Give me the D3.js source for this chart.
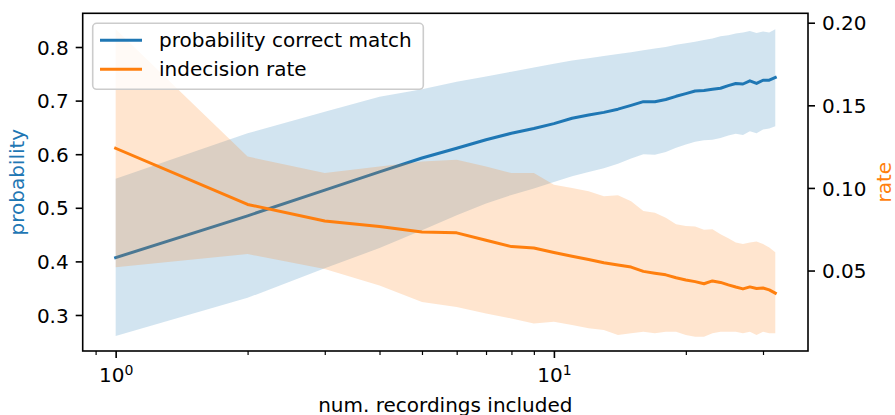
<html>
<head>
<meta charset="UTF-8"/>
<script src="https://d3js.org/d3.v7.min.js"></script>
<style>
body { margin: 0; background: #fff; }
text { font-family: "DejaVu Sans", sans-serif; }
</style>
</head>
<body>
<script>
// number of recordings (x)
const recordings = [1,2,3,4,5,6,7,8,9,10,11,12,13,14,15,16,17,18,19,20,21,22,23,24,25,26,27,28,29,30,31,32];

// probability of correct match (left axis)
const probMean  = [0.407,0.485,0.533,0.567,0.593,0.611,0.627,0.639,0.648,0.657,0.667,0.673,0.678,0.684,0.691,0.698,
                   0.698,0.702,0.708,0.713,0.718,0.719,0.721,0.723,0.728,0.732,0.731,0.737,0.732,0.738,0.738,0.743];
const probUpper = [0.554,0.639,0.679,0.707,0.721,0.735,0.745,0.754,0.762,0.769,0.775,0.779,0.783,0.787,0.790,0.794,
                   0.797,0.800,0.804,0.807,0.810,0.813,0.816,0.820,0.822,0.825,0.827,0.830,0.826,0.829,0.827,0.833];
const probLower = [0.261,0.332,0.387,0.425,0.458,0.486,0.508,0.524,0.536,0.548,0.559,0.567,0.574,0.582,0.592,0.600,
                   0.599,0.604,0.612,0.618,0.623,0.626,0.627,0.630,0.635,0.638,0.636,0.643,0.639,0.646,0.648,0.652];

// indecision rate (right axis)
const rateMean  = [0.124,0.090,0.080,0.0767,0.0733,0.0728,0.0683,0.0645,0.0636,0.0609,0.0587,0.0567,0.0547,0.0533,0.0521,0.0495,
                   0.0484,0.0474,0.0456,0.0443,0.0433,0.0420,0.0437,0.0428,0.0413,0.0400,0.0389,0.0401,0.0391,0.0394,0.0383,0.0363];
const rateUpper = [0.196,0.119,0.109,0.113,0.116,0.117,0.113,0.109,0.109,0.102,0.100,0.098,0.095,0.0955,0.092,0.086,
                   0.085,0.082,0.078,0.077,0.0767,0.0747,0.075,0.072,0.0696,0.067,0.066,0.067,0.0676,0.066,0.064,0.061];
const rateLower = [0.052,0.060,0.051,0.041,0.031,0.028,0.024,0.021,0.018,0.019,0.017,0.015,0.014,0.011,0.012,0.013,
                   0.012,0.013,0.013,0.011,0.010,0.010,0.012,0.013,0.013,0.013,0.012,0.013,0.011,0.013,0.012,0.012];

// ticks
const xMajor = [1, 10];
const xMinor = [0.9, 2, 3, 4, 5, 6, 7, 8, 9, 20, 30];
const probTicks = [0.3, 0.4, 0.5, 0.6, 0.7, 0.8];
const rateTicks = [0.05, 0.10, 0.15, 0.20];

const blue = "#1f77b4";
const orange = "#ff7f0e";

const width = 895, height = 415;
const plotL = 82.7, plotR = 808, plotT = 13.3, plotB = 351;

const svg = d3.select("body").append("svg")
  .attr("width", width)
  .attr("height", height);

const x = d3.scaleLog().domain([0.841, 38.0]).range([plotL, plotR]);
const y1 = d3.scaleLinear().domain([0.2328, 0.8629]).range([plotB, plotT]);
const y2 = d3.scaleLinear().domain([0.0013, 0.2057]).range([plotB, plotT]);

const probRows = recordings.map((r, i) => ({r: r, m: probMean[i], lo: probLower[i], hi: probUpper[i]}));
const rateRows = recordings.map((r, i) => ({r: r, m: rateMean[i], lo: rateLower[i], hi: rateUpper[i]}));

// probability band + line (first axes)
svg.append("path")
  .datum(probRows)
  .attr("fill", blue).attr("fill-opacity", 0.2)
  .attr("d", d3.area().x(d => x(d.r)).y0(d => y1(d.lo)).y1(d => y1(d.hi)));
svg.append("path")
  .datum(probRows)
  .attr("fill", "none").attr("stroke", blue).attr("stroke-width", 3)
  .attr("stroke-linejoin", "round").attr("stroke-linecap", "square")
  .attr("d", d3.line().x(d => x(d.r)).y(d => y1(d.m)));

// rate band + line (twin axes, drawn on top)
svg.append("path")
  .datum(rateRows)
  .attr("fill", orange).attr("fill-opacity", 0.2)
  .attr("d", d3.area().x(d => x(d.r)).y0(d => y2(d.lo)).y1(d => y2(d.hi)));
svg.append("path")
  .datum(rateRows)
  .attr("fill", "none").attr("stroke", orange).attr("stroke-width", 3)
  .attr("stroke-linejoin", "round").attr("stroke-linecap", "square")
  .attr("d", d3.line().x(d => x(d.r)).y(d => y2(d.m)));

// spines
svg.append("rect")
  .attr("x", plotL).attr("y", plotT)
  .attr("width", plotR - plotL).attr("height", plotB - plotT)
  .attr("fill", "none").attr("stroke", "black").attr("stroke-width", 1.6);

function style(g, w) {
  g.select(".domain").remove();
  g.selectAll(".tick line").attr("stroke-width", w);
  g.attr("font-size", 20).attr("font-family", "DejaVu Sans");
}

// left axis
svg.append("g")
  .attr("transform", "translate(" + plotL + ",0)")
  .call(d3.axisLeft(y1).tickValues(probTicks).tickSize(7).tickPadding(7).tickFormat(d3.format(".1f")))
  .call(g => style(g, 1.6))
  .selectAll("text").attr("dy", "0.36em");

// right axis
svg.append("g")
  .attr("transform", "translate(" + plotR + ",0)")
  .call(d3.axisRight(y2).tickValues(rateTicks).tickSize(7).tickPadding(7).tickFormat(d3.format(".2f")))
  .call(g => style(g, 1.6))
  .selectAll("text").attr("dy", "0.36em");

// bottom axis, minor then major
svg.append("g")
  .attr("transform", "translate(0," + plotB + ")")
  .call(d3.axisBottom(x).tickValues(xMinor).tickSize(4).tickFormat(""))
  .call(g => style(g, 1.2));

const xg = svg.append("g")
  .attr("transform", "translate(0," + plotB + ")")
  .call(d3.axisBottom(x).tickValues(xMajor).tickSize(7).tickFormat(""))
  .call(g => style(g, 1.6));

xg.selectAll(".tick").each(function(d) {
  const t = d3.select(this).select("text")
    .attr("y", 31).attr("dy", null)
    .attr("text-anchor", "middle");
  t.append("tspan").text("10");
  t.append("tspan").attr("font-size", 14).attr("dy", -7).text(Math.round(Math.log10(d)));
});

// axis labels
svg.append("text")
  .attr("x", (plotL + plotR) / 2).attr("y", 412)
  .attr("text-anchor", "middle").attr("font-size", 20)
  .text("num. recordings included");

svg.append("text")
  .attr("transform", "translate(24," + (plotT + plotB) / 2 + ") rotate(-90)")
  .attr("text-anchor", "middle").attr("font-size", 20).attr("fill", blue)
  .text("probability");

svg.append("text")
  .attr("transform", "translate(891," + (plotT + plotB) / 2 + ") rotate(-90)")
  .attr("text-anchor", "middle").attr("font-size", 20).attr("fill", orange)
  .text("rate");

// legend
const legend = svg.append("g");
legend.append("rect")
  .attr("x", 92.7).attr("y", 23.3).attr("width", 330.6).attr("height", 66).attr("rx", 4)
  .attr("fill", "white").attr("fill-opacity", 0.8)
  .attr("stroke", "#cccccc").attr("stroke-width", 1.6);

const items = [{label: "probability correct match", color: blue}, {label: "indecision rate", color: orange}];
items.forEach((it, i) => {
  const yy = 40.3 + i * 29;
  legend.append("line")
    .attr("x1", 100).attr("x2", 142).attr("y1", yy).attr("y2", yy)
    .attr("stroke", it.color).attr("stroke-width", 3);
  legend.append("text")
    .attr("x", 159).attr("y", yy + 6.8)
    .attr("font-size", 20)
    .text(it.label);
});
</script>
</body>
</html>
